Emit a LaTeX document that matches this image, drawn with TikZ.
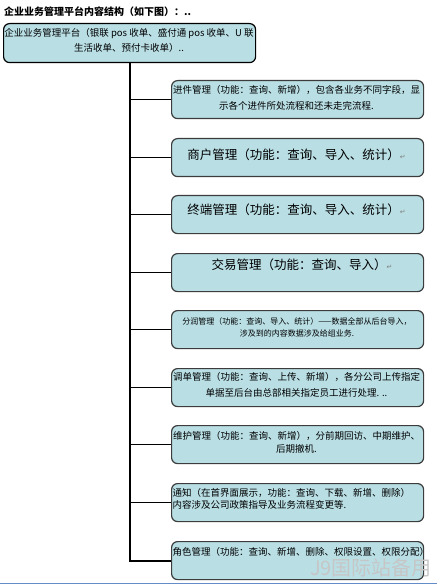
\documentclass[tikz,border=0pt]{standalone}
\usepackage{fontspec}
\setmainfont{Noto Sans CJK SC}
\newfontfamily\djv{DejaVu Sans}
\definecolor{boxfill}{RGB}{185,223,229}
\definecolor{boxdraw}{RGB}{60,60,60}
\definecolor{bottomblue}{RGB}{100,140,200}
\newcommand{\retmark}{{\djv\color{gray}\fontsize{7}{8}\selectfont ↵}}
\begin{document}
\begin{tikzpicture}[x=1pt,y=-1pt,
  box/.style={draw=boxdraw, line width=1.2pt, fill=boxfill, rounded corners=6pt,
    minimum width=252pt, minimum height=38pt, anchor=north west, inner sep=0pt},
  txtsmall/.style={font=\fontsize{9.5}{15.5}\selectfont, align=center, inner sep=0pt, anchor=north},
  txttiny/.style={font=\fontsize{8}{12}\selectfont, align=center, inner sep=0pt, anchor=north},
  txtbig/.style={font=\fontsize{12.5}{15}\selectfont, inner sep=0pt, anchor=north},
  link/.style={line width=1.3pt, black},
  spine/.style={line width=1.8pt, black}]
\useasboundingbox (0,0) rectangle (437,585);
\fill[white] (0,0) rectangle (437,585);
\draw[bottomblue, line width=1pt] (0,583.5) -- (437,583.5);

\node[anchor=west, font=\bfseries\fontsize{10}{12}\selectfont, inner sep=0pt] (title) at (4,12) {企业业务管理平台内容结构（如下图）：..};

\node[box, draw=black, minimum width=252pt, minimum height=39pt] (root) at (3,23) {};
\node[txtsmall, font=\fontsize{9.5}{14.5}\selectfont] (roottext) at (129,28.5) {企业业务管理平台（银联 pos 收单、盛付通 pos 收单、U 联\\生活收单、预付卡收单）..};

\node[box] (c1) at (171,80) {};
\node[box] (c2) at (171,138) {};
\node[box] (c3) at (171,195) {};
\node[box] (c4) at (171,253) {};
\node[box] (c5) at (171,310) {};
\node[box] (c6) at (171,368) {};
\node[box] (c7) at (171,425) {};
\node[box] (c8) at (171,483) {};
\node[box] (c9) at (171,541) {};

\node[txtsmall] (t1) at (296.5,85.5) {进件管理（功能：查询、新增），包含各业务不同字段，显\\示各个进件所处流程和还未走完流程.};
\node[txtbig] (t2) at (296.5,149) {商户管理（功能：查询、导入、统计）\retmark};
\node[txtbig] (t3) at (296.5,204) {终端管理（功能：查询、导入、统计）\retmark};
\node[txtbig] (t4) at (302,259) {交易管理（功能：查询、导入）\retmark};
\node[txttiny] (t5) at (297,317) {分润管理（功能：查询、导入、统计）——数据全部从后台导入，\\涉及到的内容数据涉及给组业务.};
\node[txtsmall, font=\fontsize{9.5}{16}\selectfont] (t6) at (296.5,372) {调单管理（功能：查询、上传、新增），各分公司上传指定\\单据至后台由总部相关指定员工进行处理. ..};
\node[txtsmall, font=\fontsize{9.5}{13.5}\selectfont] (t7) at (296.5,431) {维护管理（功能：查询、新增），分前期回访、中期维护、\\后期撤机.};
\node[txtsmall, align=left, anchor=north west, font=\fontsize{9.5}{12.5}\selectfont] (t8) at (172.5,488) {通知（在首界面展示，功能：查询、下载、新增、删除）\\内容涉及公司政策指导及业务流程变更等.};
\node[txtsmall, anchor=north west] (t9) at (172.5,547.5) {角色管理（功能：查询、新增、删除、权限设置、权限分配）};

\node[font=\fontsize{20}{22}\selectfont, text=gray!45, inner sep=0pt] (wm) at (371,567.5) {J9国际站备用};

\coordinate (sp) at (root.south);
\draw[spine] (sp) |- (c9.west);
\foreach \i in {1,...,8}{
  \draw[link] (sp |- c\i.west) -- (c\i.west);
}
\end{tikzpicture}
\end{document}
